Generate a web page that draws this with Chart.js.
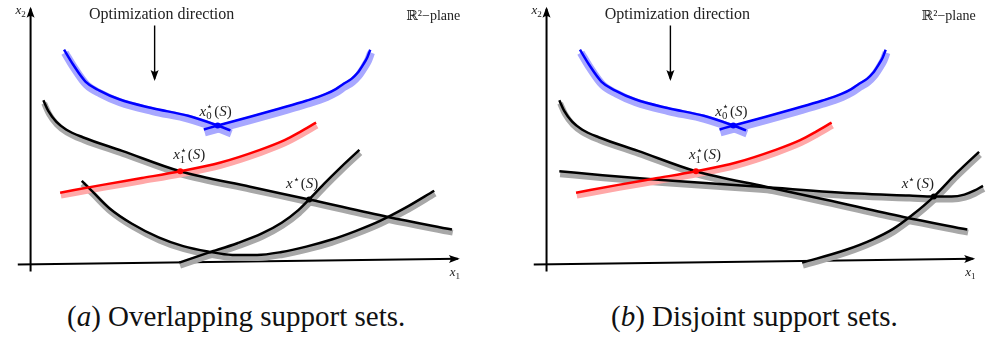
<!DOCTYPE html>
<html>
<head>
<meta charset="utf-8">
<script src="https://cdn.jsdelivr.net/npm/chart.js@4/dist/chart.umd.min.js"></script>
<style>
  body { margin: 0; width: 987px; height: 339px; background: #fff; position: relative; overflow: hidden; }
  #panelA { position: absolute; left: 0; top: 0; }
  #panelB { position: absolute; left: 516px; top: 0; }
  .cap { position: absolute; top: 302px; font-family: "Liberation Serif", "Times New Roman", serif; font-size: 29px; line-height: 29px; color: #111; white-space: nowrap; }
</style>
</head>
<body>
<canvas id="panelA" width="516" height="290"></canvas>
<canvas id="panelB" width="471" height="290"></canvas>
<div class="cap" style="left:67px">(<i>a</i>) Overlapping support sets.</div>
<div class="cap" style="left:611px">(<i>b</i>) Disjoint support sets.</div>
<script>
// curve samples in plane units (1 unit = 10 px), origin where the axes meet
const blueLeft = [[3.4,22.1],[4.3,20.6],[5.6,18.8],[7.0,17.9],[9.0,17.0],[12.3,16.1],[16.0,15.3],[19.0,14.3],[20.3,13.8]];
const blueRight = [[17.6,13.9],[19.0,14.3],[22.3,15.2],[25.3,16.05],[28.0,16.85],[30.0,17.55],[31.0,18.05],[31.8,18.6],[32.6,19.1],[33.2,19.7],[33.8,20.6],[34.2,21.3],[34.5,22.1]];
const redCurve = [[3.0,7.4],[7.3,8.2],[11.3,8.9],[15.2,9.6],[19.3,10.5],[23.3,11.8],[25.8,12.8],[27.3,13.6],[29.0,14.6]];
const blackDecr = [[1.3,16.9],[1.8,15.8],[2.6,14.7],[3.6,13.9],[5.3,13.1],[9.3,11.7],[15.2,9.6],[22.3,8.0],[28.3,6.7],[36.3,4.9],[42.8,3.6]];

// panel (a): overlapping support sets
const risingA = [[15.1,0.2],[18.0,1.2],[21.0,2.2],[23.5,3.2],[25.5,4.3],[27.2,5.6],[28.3,6.7],[29.8,8.3],[31.5,10.0],[33.4,11.8]];
const uCurveA = [[5.2,8.6],[6.3,7.5],[8.0,5.8],[10.3,4.2],[13.0,2.8],[15.5,1.9],[18.0,1.35],[20.5,1.0],[23.0,1.0],[25.5,1.3],[28.0,1.85],[30.5,2.55],[33.0,3.45],[35.5,4.5],[38.0,5.8],[41.0,7.6]];

// panel (b): disjoint support sets
const risingB = [[26.0,0.2],[30.4,1.5],[33.2,2.6],[35.3,3.7],[37.2,5.1],[39.4,7.0],[41.7,9.4],[44.0,11.6]];
const flatB = [[1.3,9.6],[5.7,9.2],[11.7,8.7],[21.7,8.0],[31.7,7.3],[36.9,7.1],[39.4,7.0],[41.2,7.0],[42.5,7.2],[43.5,7.6],[44.4,8.1]];

// optimum points
const x0Star = [19.0, 14.3];
const x1Star = [15.2, 9.6];
const xStarA = [28.3, 6.7];
const xStarB = [39.4, 7.0];

// axes and direction arrow
const xAxisLine = [[-1.3,0.0],[43.4,0.6]];
const yAxisLine = [[0,-0.7],[0,26.3]];
const optArrow = [[12.6,24.6],[12.6,19.1]];

const pts = arr => arr.map(p => ({ x: p[0], y: p[1] }));
const SERIF = '"Liberation Serif", "DejaVu Serif", serif';

function curve(data, color, width, extra) {
  return Object.assign({
    data: pts(data), showLine: true, borderColor: color, borderWidth: width,
    pointRadius: 0, cubicInterpolationMode: 'monotone', order: 2, clip: false
  }, extra || {});
}

function withShadow(data, color, shade, shadeWidth) {
  return [
    curve(data, shade, shadeWidth, { shadow: true, order: 3 }),
    curve(data, color, 2.5)
  ];
}

function dot(p, color) {
  return { data: pts([p]), showLine: false, pointRadius: 3, pointBackgroundColor: color, pointBorderWidth: 0, order: 0, clip: false };
}

function arrowHead(ctx, x1, y1, x2, y2, len, half) {
  const a = Math.atan2(y2 - y1, x2 - x1);
  ctx.save();
  ctx.translate(x2, y2);
  ctx.rotate(a);
  ctx.beginPath();
  ctx.moveTo(2, 0);
  ctx.lineTo(-len, -half);
  ctx.quadraticCurveTo(-len * 0.6, 0, -len, half);
  ctx.closePath();
  ctx.fillStyle = '#000';
  ctx.fill();
  ctx.restore();
}

function subLabel(ctx, x, y, sub, size) {
  ctx.textAlign = 'left';
  ctx.textBaseline = 'alphabetic';
  ctx.fillStyle = '#222';
  ctx.font = 'italic ' + size + 'px ' + SERIF;
  ctx.fillText('x', x, y);
  const w = ctx.measureText('x').width;
  ctx.font = 'normal ' + (size * 0.7) + 'px ' + SERIF;
  ctx.fillText(sub, x + w, y + size * 0.25);
}

function starLabel(ctx, cx, cy, sub, size) {
  const small = size * 0.72;
  ctx.textAlign = 'left';
  ctx.textBaseline = 'alphabetic';
  ctx.fillStyle = '#222';
  ctx.font = 'italic ' + size + 'px ' + SERIF;
  const wx = ctx.measureText('x').width, wS = ctx.measureText('S').width;
  ctx.font = 'normal ' + small + 'px ' + SERIF;
  const ws = Math.max(ctx.measureText('\u22C6').width, sub ? ctx.measureText(sub).width : 0);
  ctx.font = 'normal ' + size + 'px ' + SERIF;
  const wp = ctx.measureText('(').width, wq = ctx.measureText(')').width;
  let x = cx - (wx + ws + 1 + wp + wS + wq) / 2;
  const base = cy + size * 0.33;
  ctx.font = 'italic ' + size + 'px ' + SERIF;
  ctx.fillText('x', x, base); x += wx;
  ctx.font = 'normal ' + small + 'px ' + SERIF;
  ctx.fillText('\u22C6', x, base - size * 0.38);
  if (sub) ctx.fillText(sub, x, base + size * 0.22);
  x += ws + 1;
  ctx.font = 'normal ' + size + 'px ' + SERIF;
  ctx.fillText('(', x, base); x += wp;
  ctx.font = 'italic ' + size + 'px ' + SERIF;
  ctx.fillText('S', x, base); x += wS;
  ctx.font = 'normal ' + size + 'px ' + SERIF;
  ctx.fillText(')', x, base);
}

const decorPlugin = {
  id: 'decor',
  beforeDatasetDraw(chart, args) {
    if (chart.data.datasets[args.index].shadow) {
      chart.ctx.save();
      chart.ctx.translate(0.8, 3);
    }
  },
  afterDatasetDraw(chart, args) {
    if (chart.data.datasets[args.index].shadow) chart.ctx.restore();
  },
  afterDraw(chart, args, opts) {
    const ctx = chart.ctx;
    const sx = v => chart.scales.x.getPixelForValue(v);
    const sy = v => chart.scales.y.getPixelForValue(v);
    chart.data.datasets.forEach(ds => {
      if (!ds.arrow) return;
      const n = ds.data.length, a = ds.data[n - 2], b = ds.data[n - 1];
      arrowHead(ctx, sx(a.x), sy(a.y), sx(b.x), sy(b.y), ds.arrow[0], ds.arrow[1]);
    });
    // axis names
    subLabel(ctx, sx(yAxisLine[1][0]) - 15, sy(yAxisLine[1][1]) + 5, '2', 13);
    subLabel(ctx, sx(xAxisLine[1][0]) - 8, sy(xAxisLine[1][1]) + 17, '1', 13);
    // direction text
    ctx.font = 'normal 16px ' + SERIF;
    ctx.fillStyle = '#222';
    ctx.textAlign = 'center';
    ctx.textBaseline = 'middle';
    ctx.fillText('Optimization direction', sx(optArrow[0][0]) + 7, sy(optArrow[0][1]) - 11);
    ctx.font = 'normal 14px ' + SERIF;
    ctx.fillText('\u211D\u00B2\u2212plane', sx(40.9), sy(25.5));
    // optimum labels
    opts.stars.forEach(s => starLabel(ctx, sx(s.at[0]) + s.dx, sy(s.at[1]) + s.dy, s.sub, 15));
  }
};

function makePanel(id, width, extra, stars) {
  const datasets = [
    curve(xAxisLine, '#000', 2, { order: 4, arrow: [9, 4], cubicInterpolationMode: 'default' }),
    curve(yAxisLine, '#000', 2, { order: 4, arrow: [9, 4], cubicInterpolationMode: 'default' }),
    curve(optArrow, '#000', 1.4, { order: 4, arrow: [9, 4], cubicInterpolationMode: 'default' })
  ].concat(
    withShadow(blueLeft, '#0000ff', '#a8a8ff', 8),
    withShadow(blueRight, '#0000ff', '#a8a8ff', 8),
    withShadow(redCurve, '#ff0000', '#ffa8a8', 6),
    withShadow(blackDecr, '#000000', '#a8a8a8', 6),
    extra,
    [dot(x0Star, '#0000ff'), dot(x1Star, '#ff0000')]
  );
  new Chart(document.getElementById(id), {
    type: 'scatter',
    data: { datasets: datasets },
    options: {
      responsive: false,
      animation: false,
      devicePixelRatio: 1,
      layout: { padding: 0 },
      scales: {
        x: { type: 'linear', min: -2.7, max: (width - 27) / 10, display: false },
        y: { type: 'linear', min: -2.2, max: 26.8, display: false }
      },
      plugins: {
        legend: { display: false },
        tooltip: { enabled: false },
        decor: { stars: stars }
      }
    },
    plugins: [decorPlugin]
  });
}

makePanel('panelA', 516,
  withShadow(risingA, '#000000', '#a8a8a8', 6).concat(
    withShadow(uCurveA, '#000000', '#a8a8a8', 6),
    [dot(xStarA, '#000000')]),
  [
    { at: x0Star, sub: '0', dx: -2, dy: -15 },
    { at: x1Star, sub: '1', dx: 9, dy: -17 },
    { at: xStarA, sub: '', dx: -7, dy: -16 }
  ]);

makePanel('panelB', 471,
  withShadow(risingB, '#000000', '#a8a8a8', 6).concat(
    withShadow(flatB, '#000000', '#a8a8a8', 6),
    [dot(xStarB, '#000000')]),
  [
    { at: x0Star, sub: '0', dx: -2, dy: -15 },
    { at: x1Star, sub: '1', dx: 9, dy: -17 },
    { at: xStarB, sub: '', dx: -16, dy: -13 }
  ]);
</script>
</body>
</html>
